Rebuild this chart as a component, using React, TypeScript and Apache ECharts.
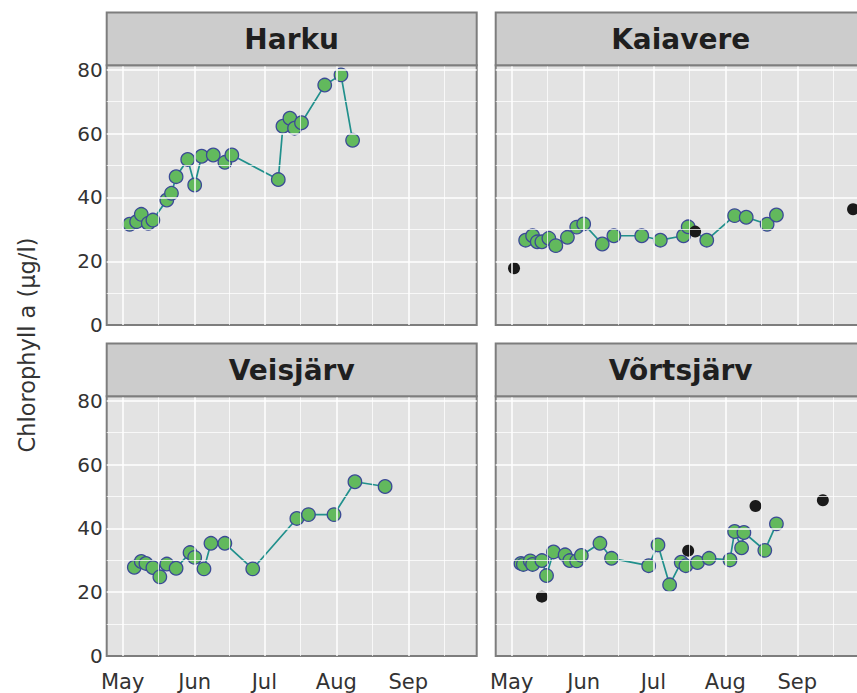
import React, { useEffect, useRef } from "react";
import * as echarts from "echarts";

// ---------- data ----------
const panelNames = ["Harku", "Kaiavere", "Veisjärv", "Võrtsjärv"];

const harkuDates = ["2020-05-04","2020-05-07","2020-05-09","2020-05-12","2020-05-14","2020-05-20","2020-05-22","2020-05-24","2020-05-29","2020-06-01","2020-06-04","2020-06-09","2020-06-14","2020-06-17","2020-07-07","2020-07-09","2020-07-12","2020-07-14","2020-07-17","2020-07-27","2020-08-03","2020-08-08"];
const harkuValues = [31.6,32.4,34.7,31.9,32.9,39.2,41.3,46.5,51.9,43.9,52.9,53.3,51.0,53.3,45.6,62.3,64.8,61.7,63.4,75.2,78.4,57.9];

const kaiavereDates = ["2020-05-07","2020-05-10","2020-05-12","2020-05-14","2020-05-17","2020-05-20","2020-05-25","2020-05-29","2020-06-01","2020-06-09","2020-06-14","2020-06-26","2020-07-04","2020-07-14","2020-07-16","2020-07-24","2020-08-05","2020-08-10","2020-08-19","2020-08-23"];
const kaiavereValues = [26.6,28.0,26.1,26.1,27.2,24.9,27.5,30.7,31.7,25.4,28.0,28.0,26.6,28.0,30.8,26.6,34.3,33.8,31.6,34.5];
const kaiavereOtherDates = ["2020-05-02","2020-07-19","2020-09-25"];
const kaiavereOtherValues = [17.8,29.3,36.3];

const veisjarvDates = ["2020-05-06","2020-05-09","2020-05-11","2020-05-14","2020-05-17","2020-05-20","2020-05-24","2020-05-30","2020-06-01","2020-06-05","2020-06-08","2020-06-14","2020-06-26","2020-07-15","2020-07-20","2020-07-31","2020-08-09","2020-08-22"];
const veisjarvValues = [27.8,29.6,29.0,27.7,24.8,28.8,27.5,32.4,30.9,27.3,35.3,35.3,27.3,43.1,44.3,44.3,54.6,53.1];

const vortsjarvDates = ["2020-05-05","2020-05-06","2020-05-09","2020-05-10","2020-05-14","2020-05-16","2020-05-19","2020-05-24","2020-05-26","2020-05-29","2020-05-31","2020-06-08","2020-06-13","2020-06-29","2020-07-03","2020-07-08","2020-07-13","2020-07-15","2020-07-20","2020-07-25","2020-08-03","2020-08-05","2020-08-08","2020-08-09","2020-08-18","2020-08-23"];
const vortsjarvValues = [29.0,28.7,29.8,28.7,29.9,25.2,32.6,31.7,29.9,29.8,31.5,35.3,30.6,28.3,34.8,22.3,29.4,28.3,29.3,30.6,30.1,39.0,33.9,38.7,33.1,41.4];
const vortsjarvOtherDates = ["2020-05-14","2020-07-16","2020-08-14","2020-09-12"];
const vortsjarvOtherValues = [18.6,33.0,47.0,48.8];

const monthStarts = ["2020-05-01","2020-06-01","2020-07-01","2020-08-01","2020-09-01"];
const monthLabels = ["May","Jun","Jul","Aug","Sep"];
const yMajorTicks = [0, 20, 40, 60, 80];
const yMinorTicks = [10, 30, 50, 70];

// ---------- helpers ----------
const DAY = 86400000;
const ts = (s: string) => {
  const [y, m, d] = s.split("-").map(Number);
  return Date.UTC(y, m - 1, d);
};
const pairs = (dates: string[], vals: number[]) => dates.map((d, i) => [ts(d), vals[i]]);

const monthTs = monthStarts.map(ts);
const minorXTs = [
  ...monthTs.slice(0, -1).map((t, i) => (t + monthTs[i + 1]) / 2),
  monthTs[monthTs.length - 1] + (monthTs[monthTs.length - 1] - monthTs[monthTs.length - 2]) / 2,
];
const xMin = monthTs[0] - 6.89 * DAY;
const xMax = monthTs[0] + 152.45 * DAY;
const yMax = 81.4;

const FONT = "DejaVu Sans";
const GREEN = "#62b95d";
const NAVY = "#3b4a96";
const TEAL = "#21908c";
const LABEL = "#333333";

const panels = [
  { main: pairs(harkuDates, harkuValues), other: [] as number[][] },
  { main: pairs(kaiavereDates, kaiavereValues), other: pairs(kaiavereOtherDates, kaiavereOtherValues) },
  { main: pairs(veisjarvDates, veisjarvValues), other: [] as number[][] },
  { main: pairs(vortsjarvDates, vortsjarvValues), other: pairs(vortsjarvOtherDates, vortsjarvOtherValues) },
];

const colLeft = [106.7, 495.7];
const panelW = 370;
const rowTop = [65.3, 396.2];
const panelH = 259.8;
const stripH = 52.8;

export default function App() {
  const ref = useRef<HTMLDivElement>(null);
  useEffect(() => {
    if (!ref.current) return;
    const chart = echarts.init(ref.current, undefined, { renderer: "svg" });

    const grids: any[] = [];
    const xAxes: any[] = [];
    const yAxes: any[] = [];
    const series: any[] = [];
    const graphics: any[] = [];

    panels.forEach((p, i) => {
      const col = i % 2;
      const row = Math.floor(i / 2);
      grids.push({
        left: colLeft[col],
        top: rowTop[row],
        width: panelW,
        height: panelH,
        show: true,
        backgroundColor: "#e3e3e3",
        borderColor: "#7d7d7d",
        borderWidth: 2,
      });
      xAxes.push({
        type: "value",
        gridIndex: i,
        min: xMin,
        max: xMax,
        axisLine: { show: false },
        axisTick: { show: false },
        splitLine: { show: false },
        axisLabel: {
          show: row === 1,
          customValues: monthTs,
          formatter: (v: number) => {
            const idx = monthTs.findIndex((t) => Math.abs(t - v) < DAY / 2);
            return idx >= 0 ? monthLabels[idx] : "";
          },
          fontFamily: FONT,
          fontSize: 21,
          color: LABEL,
          margin: 15,
        },
      });
      yAxes.push({
        type: "value",
        gridIndex: i,
        min: 0,
        max: yMax,
        interval: 20,
        axisLine: { show: false },
        axisTick: { show: false },
        splitLine: { show: false },
        axisLabel: {
          show: col === 0,
          customValues: yMajorTicks,
          fontFamily: FONT,
          fontSize: 20,
          color: LABEL,
          margin: 4,
        },
      });

      const majorStyle = { color: "#ffffff", width: 1.5, type: "solid" };
      const minorStyle = { color: "#ffffff", width: 0.75, type: "solid" };
      series.push({
        type: "line",
        xAxisIndex: i,
        yAxisIndex: i,
        data: [],
        z: 1,
        silent: true,
        markLine: {
          silent: true,
          symbol: "none",
          label: { show: false },
          animation: false,
          emphasis: { disabled: true },
          data: [
            ...minorXTs.map((t) => ({ xAxis: t, lineStyle: minorStyle })),
            ...yMinorTicks.map((v) => ({ yAxis: v, lineStyle: minorStyle })),
            ...monthTs.map((t) => ({ xAxis: t, lineStyle: majorStyle })),
            ...yMajorTicks.filter((v) => v > 0).map((v) => ({ yAxis: v, lineStyle: majorStyle })),
          ],
        },
      });
      series.push({
        type: "line",
        xAxisIndex: i,
        yAxisIndex: i,
        data: p.main,
        z: 3,
        symbol: "circle",
        symbolSize: 13.5,
        showSymbol: true,
        lineStyle: { color: TEAL, width: 1.7 },
        itemStyle: { color: GREEN, borderColor: NAVY, borderWidth: 1.3, opacity: 1 },
        emphasis: { disabled: true },
      });
      if (p.other.length) {
        series.push({
          type: "scatter",
          xAxisIndex: i,
          yAxisIndex: i,
          data: p.other,
          z: 4,
          symbol: "circle",
          symbolSize: 12,
          itemStyle: { color: "#1a1a1a", opacity: 1 },
          emphasis: { disabled: true },
        });
      }

      const sx = colLeft[col];
      const sy = rowTop[row] - stripH;
      graphics.push({
        type: "rect",
        shape: { x: sx, y: sy, width: panelW, height: stripH },
        style: { fill: "#cccccc", stroke: "#7d7d7d", lineWidth: 2 },
        z: 10,
      });
      graphics.push({
        type: "text",
        x: sx + panelW / 2,
        y: sy + stripH / 2 + 1,
        style: {
          text: panelNames[i],
          align: "center",
          verticalAlign: "middle",
          fontFamily: FONT,
          fontWeight: "bold",
          fontSize: 28,
          fill: "#1f1f1f",
        },
        z: 11,
      });
    });

    graphics.push({
      type: "text",
      x: 27,
      y: 345,
      rotation: Math.PI / 2,
      style: {
        text: "Chlorophyll a (µg/l)",
        align: "center",
        verticalAlign: "middle",
        fontFamily: FONT,
        fontSize: 22.5,
        fill: LABEL,
      },
      z: 11,
    });

    chart.setOption({
      animation: false,
      backgroundColor: "#ffffff",
      grid: grids,
      xAxis: xAxes,
      yAxis: yAxes,
      series,
      graphic: graphics,
    });
    return () => chart.dispose();
  }, []);

  return (
    <div style={{ position: "absolute", left: 0, top: 0, width: 857, height: 693, overflow: "hidden", background: "#fff" }}>
      <div ref={ref} style={{ width: 880, height: 693 }} />
    </div>
  );
}
